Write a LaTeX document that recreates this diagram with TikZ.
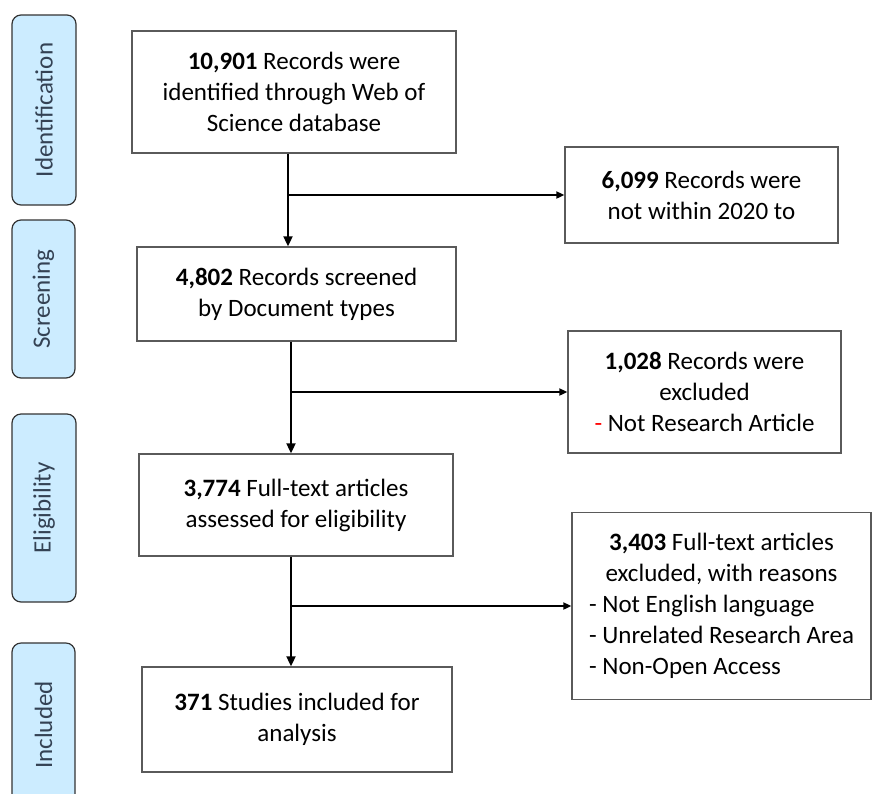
\documentclass[tikz,border=0pt]{standalone}
\usepackage{fontspec}
\setmainfont{Carlito}
\usetikzlibrary{arrows.meta}
\definecolor{phase}{RGB}{204,236,255}
\definecolor{phasetext}{RGB}{52,66,84}
\definecolor{boxline}{RGB}{90,90,90}

\begin{document}
\begin{tikzpicture}[x=1pt,y=-1pt,
  stage/.style={draw=black!80,line width=1.2pt,fill=phase,rounded corners=9pt,inner sep=0pt,text=phasetext,font=\fontsize{25}{30}\selectfont},
  record/.style={draw=boxline,line width=1.3pt,inner sep=0pt,align=center,font=\fontsize{25}{31}\selectfont},
  flow/.style={line width=1.8pt,-{Triangle[length=10pt,width=9pt]}},
  side/.style={line width=1.8pt,-{Triangle[length=8pt,width=7pt]}}]
\useasboundingbox (0,0) rectangle (872,793);
% stages
\node[stage,minimum width=64pt,minimum height=190pt] (ident) at (44,110) {\rotatebox{90}{Identification}};
\node[stage,minimum width=63pt,minimum height=158pt] (screen) at (43.5,299) {\rotatebox{90}{Screening}};
\node[stage,minimum width=64pt,minimum height=188pt] (elig) at (44,508) {\rotatebox{90}{Eligibility}};
\node[stage,minimum width=63pt,minimum height=164pt] (incl) at (43.5,725) {\rotatebox{90}{Included}};
% records
\node[record,minimum width=324pt,minimum height=122pt] (found) at (294,92) {\textbf{10,901} Records were\\identified through Web of\\Science database};
\node[record,minimum width=319pt,minimum height=94pt] (screened) at (296.5,294) {\textbf{4,802} Records screened\\by Document types};
\node[record,minimum width=314pt,minimum height=102pt] (fulltext) at (296,505) {\textbf{3,774} Full-text articles\\assessed for eligibility};
\node[record,minimum width=310pt,minimum height=105pt] (studies) at (297,719.5) {\textbf{371} Studies included for\\analysis};
% excluded
\node[record,minimum width=273pt,minimum height=96pt] (outyear) at (701.5,195) {\textbf{6,099} Records were\\not within 2020 to};
\node[record,minimum width=273pt,minimum height=122pt] (outtype) at (704.5,392) {\textbf{1,028} Records were\\excluded\\{\color{red}-} Not Research Article};
\node[record,minimum width=299pt,minimum height=187pt] (outfull) at (721.5,606) {\begin{tabular}{@{}l@{}}
  \multicolumn{1}{@{}c@{}}{\textbf{3,403} Full-text articles}\\
  \multicolumn{1}{@{}c@{}}{excluded, with reasons}\\
  - Not English language\\
  - Unrelated Research Area\\
  - Non-Open Access
\end{tabular}};
% connectors
\coordinate (colA) at (288,0);
\coordinate (colB) at (291,0);
\draw[flow] (found.south -| colA) -- (screened.north -| colA);
\draw[side] (colA |- outyear.west) -- (outyear.west);
\draw[flow] (screened.south -| colB) -- (fulltext.north -| colB);
\draw[side] (colB |- outtype.west) -- (outtype.west);
\draw[flow] (fulltext.south -| colB) -- (studies.north -| colB);
\draw[side] (colB |- outfull.west) -- (outfull.west);
\end{tikzpicture}
\end{document}
